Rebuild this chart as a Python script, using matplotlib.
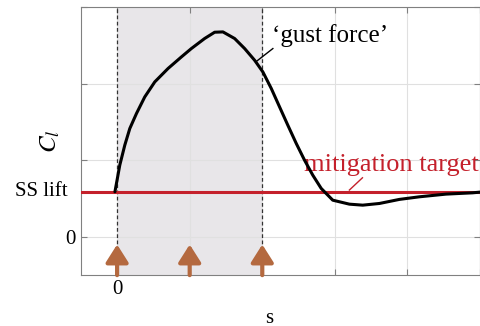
import numpy as np
import matplotlib.pyplot as plt

# gust force curve
s_pts = [-0.03, 0.037, 0.106, 0.175, 0.267, 0.381, 0.519, 0.702, 0.886, 1.023,
         1.206, 1.344, 1.458, 1.619, 1.757, 1.894, 2.008, 2.124, 2.238, 2.352,
         2.468, 2.582, 2.696, 2.812, 2.971, 3.2, 3.384, 3.614, 3.889, 4.164,
         4.531, 4.897, 5.0]
cl_pts = [0.587, 0.935, 1.196, 1.413, 1.609, 1.825, 2.021, 2.196, 2.347, 2.456,
          2.587, 2.669, 2.673, 2.587, 2.456, 2.304, 2.151, 1.935, 1.695, 1.456,
          1.218, 1.0, 0.804, 0.631, 0.478, 0.426, 0.413, 0.435, 0.488, 0.522,
          0.557, 0.574, 0.583]
ss_lift = 0.587
gust_start, gust_end = 0.0, 2.0
arrow_s = [0.0, 1.0, 2.0]
x_ticks = [0, 1, 2, 3, 4, 5]
x_ticklabels = ['0', '', '', '', '', '']
y_ticks = [0, 1, 2, 3]
y_ticklabels = ['0', '', '', '']

plt.rcParams['font.family'] = ['Liberation Serif', 'DejaVu Serif']
plt.rcParams['mathtext.fontset'] = 'stix'

fig = plt.figure(figsize=(4.81, 3.26), dpi=100)
ax = fig.add_axes([0.168, 0.156, 0.83, 0.823])

ax.axvspan(gust_start, gust_end, color='#e8e6e9', zorder=0, lw=0)
ax.grid(True, color='#e0e0e0', linewidth=0.8, zorder=0.5)
ax.set_axisbelow(True)
for xv in [gust_start, gust_end]:
    ax.axvline(xv, color='#333333', ls=(0, (3, 2)), lw=0.9, zorder=2)

ax.axhline(ss_lift, color='#c4202b', lw=2.2, zorder=3)
ax.plot(s_pts, cl_pts, color='black', lw=2.2, zorder=4,
        solid_capstyle='round', solid_joinstyle='round')

for xa in arrow_s:
    ax.annotate('', xy=(xa, -0.1), xytext=(xa, -0.5),
                arrowprops=dict(arrowstyle='-|>,head_width=0.38,head_length=0.6',
                                color='#b4693f', lw=3, mutation_scale=18,
                                shrinkA=0, shrinkB=0), zorder=5)

ax.plot([1.91, 2.146], [2.282, 2.456], color='black', lw=1.0, zorder=4)
ax.text(2.13, 2.63, '\u2018gust force\u2019', fontsize=18, ha='left', va='center')
ax.plot([3.2, 3.38], [0.61, 0.77], color='#c4202b', lw=1.0, zorder=4)
ax.text(2.58, 0.94, 'mitigation target', fontsize=19, color='#c4202b',
        ha='left', va='center')

ax.set_xlim(-0.5, 5)
ax.set_ylim(-0.5, 3)
ax.set_xticks(x_ticks)
ax.set_xticklabels(x_ticklabels)
ax.set_yticks(y_ticks)
ax.set_yticklabels(y_ticklabels)
ax.tick_params(direction='in', top=True, right=True, labelsize=15,
               color='#808080', length=4)
for sp in ax.spines.values():
    sp.set_color('#808080')

# SS lift label sits a little further from the axis than the tick labels
ax.text(-0.0325, ss_lift, 'SS lift', fontsize=15, ha='right', va='center',
        transform=ax.get_yaxis_transform())

ax.set_ylabel('$C_l$', fontsize=18)
ax.yaxis.set_label_coords(-0.047, 0.5)
ax.set_xlabel('s', fontsize=15)
ax.xaxis.set_label_coords(0.4725, -0.125)

plt.savefig('out.png', dpi=100)
